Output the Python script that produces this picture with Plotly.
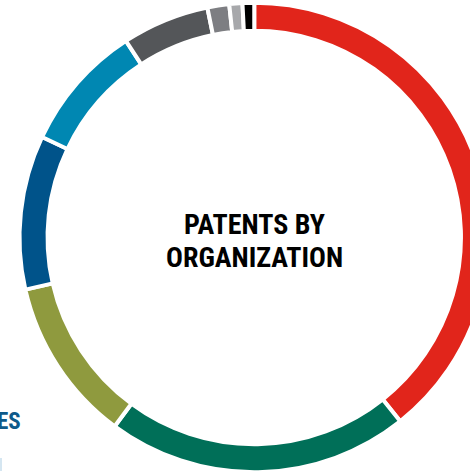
import plotly.graph_objects as go

categories = ["Org 1", "Org 2", "Org 3", "Org 4", "Org 5", "Org 6", "Org 7", "Org 8", "Org 9"]
shares = [39.3, 20.8, 11.3, 10.6, 8.75, 6.0, 1.5, 0.9, 0.8]
colors = ["#E1251B", "#006F58", "#8F9A3E", "#00538A", "#0087B2",
          "#545659", "#7D7E82", "#A7A8AB", "#000000"]
title_lines = ["PATENTS BY", "ORGANIZATION"]

W, H = 489, 475
cx, R = 254.0, 234.5

fig = go.Figure(go.Pie(
    labels=categories,
    values=shares,
    sort=False,
    direction="clockwise",
    rotation=0,
    hole=0.8806,
    marker=dict(colors=colors, line=dict(color="white", width=4)),
    textinfo="none",
    hoverinfo="label+percent",
    showlegend=False,
    domain=dict(x=[(cx - R) / W, 1.0], y=[0, 1]),
))

title_font = dict(family="Liberation Sans Narrow, Roboto Condensed, Arial Narrow, sans-serif",
                  size=28, color="#000000")
for line, ypx in zip(title_lines, [224, 257]):
    fig.add_annotation(
        x=cx / W, y=(H - ypx) / H, xref="paper", yref="paper",
        text=f"<b>{line}</b>", showarrow=False, font=title_font,
        xanchor="center", yanchor="middle",
    )

fig.add_annotation(
    x=23 / W, y=(H - 421) / H, xref="paper", yref="paper",
    text="<b>ES</b>", showarrow=False,
    font=dict(family="Liberation Sans Narrow, Roboto Condensed, Arial Narrow, sans-serif",
              size=23, color="#0E5A8A"),
    xanchor="right", yanchor="middle",
)

fig.add_shape(type="line", xref="paper", yref="paper",
              x0=1 / W, x1=1 / W, y0=(H - 471) / H, y1=(H - 458) / H,
              line=dict(color="#D5E6F1", width=2))

fig.update_layout(
    width=W, height=H,
    margin=dict(l=0, r=0, t=0, b=0),
    paper_bgcolor="white", plot_bgcolor="white",
)

fig.write_html(
    "out.html",
    config={"displayModeBar": False},
    post_script="document.body.style.margin='0';document.body.style.overflow='hidden';",
)
